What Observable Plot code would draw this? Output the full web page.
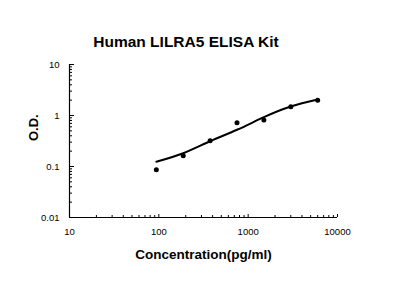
<!DOCTYPE html>
<html>
<head>
<meta charset="utf-8">
<script src="https://cdn.jsdelivr.net/npm/d3@7"></script>
<script src="https://cdn.jsdelivr.net/npm/@observablehq/plot@0.6"></script>
<style>
  body { margin: 0; background: #fff; }
  #wrap { width: 400px; height: 295px; overflow: hidden; background: #fff; }
  #title { box-sizing: border-box; height: 58px; padding-top: 33px; width: 372px;
    font: bold 15.5px/18px "Liberation Sans", Arial, sans-serif; text-align: center; color: #000; }
  svg { display: block; }
</style>
</head>
<body>
<div id="wrap">
  <div id="title">Human LILRA5 ELISA Kit</div>
  <div id="chart"></div>
</div>
<script>
const titleText = "Human LILRA5 ELISA Kit";
const xLabel = "Concentration(pg/ml)";
const yLabel = "O.D.";
const concentrations = [93.75, 187.5, 375, 750, 1500, 3000, 6000];
const odValues = [0.086, 0.162, 0.319, 0.72, 0.82, 1.48, 2.0];
const fitValues = [0.124, 0.182, 0.313, 0.525, 0.927, 1.50, 2.06];
const xTicks = [10, 100, 1000, 10000];
const yTicks = [0.01, 0.1, 1, 10];
const multipliers = [2, 3, 4, 5, 6, 7, 8, 9];

const points = concentrations.map((c, i) => ({x: c, y: odValues[i]}));
const fit = concentrations.map((c, i) => ({x: c, y: fitValues[i]}));
const xMinor = xTicks.slice(0, -1).flatMap(d => multipliers.map(m => d * m));
const yMinor = yTicks.slice(0, -1).flatMap(d => multipliers.map(m => d * m));

const W = 400, H = 237, mL = 69, mR = 63, mT = 6, mB = 78;
const frameW = W - mL - mR, frameH = H - mT - mB;
const font = '"Liberation Sans", Arial, sans-serif';

const chart = Plot.plot({
  width: W, height: H,
  marginLeft: mL, marginRight: mR, marginTop: mT, marginBottom: mB,
  style: {fontFamily: font, background: "#fff", color: "#000"},
  x: {type: "log", domain: [10, 10000]},
  y: {type: "log", domain: [0.01, 10]},
  marks: [
    Plot.axisX({ticks: xTicks, tickFormat: d => String(d), tickSize: 0, tickPadding: 11, fontSize: 9.5, label: null}),
    Plot.axisY({ticks: yTicks, tickFormat: d => String(d), tickSize: 0, tickPadding: 10, fontSize: 9.5, label: null}),
    // inward ticks
    Plot.tickX(xTicks.slice(1, -1).concat([10000]), {x: d => d, insetTop: frameH - 3, stroke: "#000"}),
    Plot.tickX(xMinor, {x: d => d, insetTop: frameH - 2, stroke: "#000"}),
    Plot.tickY(yTicks, {y: d => d, insetRight: frameW - 5, stroke: "#000"}),
    Plot.tickY(yMinor, {y: d => d, insetRight: frameW - 3, stroke: "#000"}),
    Plot.ruleX([10], {stroke: "#000", strokeWidth: 1.2}),
    Plot.ruleY([0.01], {stroke: "#000", strokeWidth: 1.2}),
    Plot.line(fit, {x: "x", y: "y", curve: "natural", stroke: "#000", strokeWidth: 2}),
    Plot.dot(points, {x: "x", y: "y", r: 2.5, fill: "#000", stroke: null}),
    Plot.text([xLabel], {frameAnchor: "bottom", dy: 37, lineAnchor: "middle", fontWeight: "bold", fontSize: 13.5, fill: "#000", text: d => d}),
    Plot.text([yLabel], {frameAnchor: "left", dx: -36, rotate: -90, lineAnchor: "middle", fontWeight: "bold", fontSize: 13, fill: "#000", text: d => d})
  ]
});
document.getElementById("chart").appendChild(chart);
</script>
</body>
</html>
